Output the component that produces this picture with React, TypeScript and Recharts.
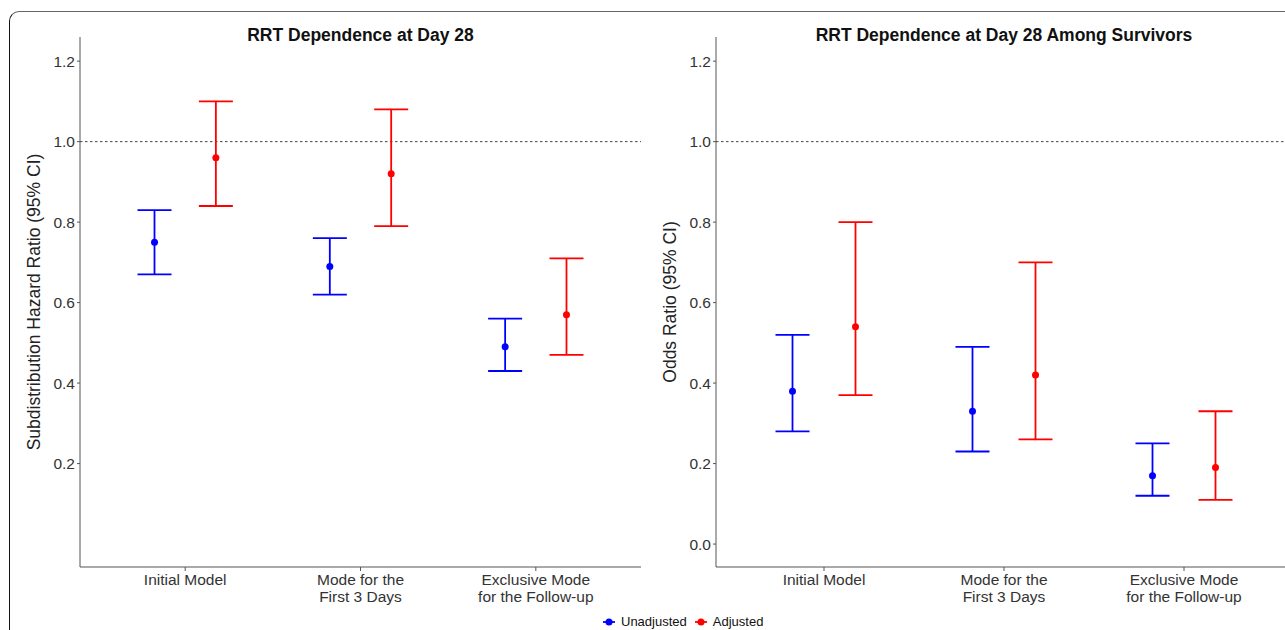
import React from 'react';
import { ComposedChart, Scatter, ErrorBar, XAxis, YAxis, ReferenceLine, Label } from 'recharts';

const CATEGORIES: string[][] = [
  ['Initial Model'],
  ['Mode for the', 'First 3 Days'],
  ['Exclusive Mode', 'for the Follow-up'],
];
const SERIES = ['Unadjusted', 'Adjusted'];
const COLORS = ['#0000FF', '#FF0000'];

// Panel 1: RRT Dependence at Day 28 (subdistribution hazard ratio)
const HR_UNADJ_EST = [0.75, 0.69, 0.49];
const HR_UNADJ_LO = [0.67, 0.62, 0.43];
const HR_UNADJ_HI = [0.83, 0.76, 0.56];
const HR_ADJ_EST = [0.96, 0.92, 0.57];
const HR_ADJ_LO = [0.84, 0.79, 0.47];
const HR_ADJ_HI = [1.1, 1.08, 0.71];

// Panel 2: Among survivors (odds ratio)
const OR_UNADJ_EST = [0.38, 0.33, 0.17];
const OR_UNADJ_LO = [0.28, 0.23, 0.12];
const OR_UNADJ_HI = [0.52, 0.49, 0.25];
const OR_ADJ_EST = [0.54, 0.42, 0.19];
const OR_ADJ_LO = [0.37, 0.26, 0.11];
const OR_ADJ_HI = [0.8, 0.7, 0.33];

const HR_TICKS = [0.2, 0.4, 0.6, 0.8, 1.0, 1.2];
const OR_TICKS = [0.0, 0.2, 0.4, 0.6, 0.8, 1.0, 1.2];
const Y_DOMAIN = [-0.057, 1.26];
const X_DOMAIN = [0.4, 3.6];
const X_TICKS = [1, 2, 3];

const DODGE = 0.175;
const FONT = '"Liberation Sans", Arial, sans-serif';

function build(est: number[], lo: number[], hi: number[], offset: number) {
  return est.map((v, i) => ({ x: i + 1 + offset, y: v, err: [v - lo[i], hi[i] - v] }));
}

const XTick = (props: any) => {
  const { x, y, payload } = props;
  const lines = CATEGORIES[Math.round(payload.value) - 1] || [];
  return (
    <text x={x} y={y} textAnchor="middle" fontSize={15.5} fill="#333" fontFamily={FONT}>
      {lines.map((l, i) => (
        <tspan key={i} x={x} dy={i === 0 ? 12 : 17}>
          {l}
        </tspan>
      ))}
    </text>
  );
};

const dot = (color: string) => (p: any) => <circle cx={p.cx} cy={p.cy} r={3.5} fill={color} />;

type PanelProps = {
  left: number;
  marginLeft: number;
  marginRight: number;
  title: string;
  yLabel: string;
  ticks: number[];
  unadj: any[];
  adj: any[];
};

const Panel = ({ left, marginLeft, marginRight, title, yLabel, ticks, unadj, adj }: PanelProps) => {
  const W = 660;
  const plotLeft = marginLeft + 60;
  const plotW = W - plotLeft - marginRight;
  return (
    <div style={{ position: 'absolute', left, top: 0, width: W, height: 630 }}>
      <div
        style={{
          position: 'absolute',
          left: plotLeft,
          width: plotW,
          top: 25,
          textAlign: 'center',
          fontFamily: FONT,
          fontWeight: 'bold',
          fontSize: 17.5,
          color: '#111',
        }}
      >
        {title}
      </div>
      <ComposedChart
        width={W}
        height={630}
        margin={{ top: 37, right: marginRight, bottom: 13, left: marginLeft }}
      >
        <XAxis
          type="number"
          dataKey="x"
          domain={X_DOMAIN}
          ticks={X_TICKS}
          allowDataOverflow
          height={50}
          tick={<XTick />}
          tickSize={4}
          tickMargin={2}
          stroke="#555"
          tickLine={{ stroke: '#555' }}
        />
        <YAxis
          type="number"
          dataKey="y"
          domain={Y_DOMAIN}
          ticks={ticks}
          allowDataOverflow
          width={60}
          tickFormatter={(v: number) => v.toFixed(1)}
          tick={{ fontSize: 15.5, fill: '#333', fontFamily: FONT }}
          tickSize={3}
          tickMargin={2}
          stroke="#555"
        >
          <Label
            content={(p: any) => {
              const vb = p.viewBox;
              const cx = vb.x + 14;
              const cy = vb.y + vb.height / 2;
              return (
                <text
                  x={cx}
                  y={cy}
                  transform={`rotate(-90 ${cx} ${cy})`}
                  textAnchor="middle"
                  dominantBaseline="central"
                  fontSize={17.5}
                  fill="#222"
                  fontFamily={FONT}
                >
                  {yLabel}
                </text>
              );
            }}
          />
        </YAxis>
        <ReferenceLine y={1} stroke="#444" strokeDasharray="2.5 2.5" strokeWidth={1} />
        <Scatter data={unadj} fill={COLORS[0]} shape={dot(COLORS[0])} isAnimationActive={false}>
          <ErrorBar dataKey="err" direction="y" width={17} stroke={COLORS[0]} strokeWidth={1.8} />
        </Scatter>
        <Scatter data={adj} fill={COLORS[1]} shape={dot(COLORS[1])} isAnimationActive={false}>
          <ErrorBar dataKey="err" direction="y" width={17} stroke={COLORS[1]} strokeWidth={1.8} />
        </Scatter>
      </ComposedChart>
    </div>
  );
};

const LegendItem = ({ label, color }: { label: string; color: string }) => (
  <div style={{ display: 'flex', alignItems: 'center', marginRight: 7 }}>
    <svg width={14} height={10} style={{ marginRight: 5 }}>
      <line x1={1} y1={5} x2={13} y2={5} stroke={color} strokeWidth={1.8} />
      <circle cx={7} cy={5} r={3.5} fill={color} />
    </svg>
    <span style={{ fontFamily: FONT, fontSize: 13, color: '#111' }}>{label}</span>
  </div>
);

export default function App() {
  const hrUnadj = build(HR_UNADJ_EST, HR_UNADJ_LO, HR_UNADJ_HI, -DODGE);
  const hrAdj = build(HR_ADJ_EST, HR_ADJ_LO, HR_ADJ_HI, DODGE);
  const orUnadj = build(OR_UNADJ_EST, OR_UNADJ_LO, OR_UNADJ_HI, -DODGE);
  const orAdj = build(OR_ADJ_EST, OR_ADJ_LO, OR_ADJ_HI, DODGE);
  return (
    <div
      style={{
        position: 'fixed',
        left: 0,
        top: 0,
        width: 1285,
        height: 630,
        overflow: 'hidden',
        background: '#fff',
      }}
    >
      <div
        style={{
          position: 'absolute',
          left: 9,
          top: 11,
          width: 1320,
          height: 660,
          border: '1px solid #666',
          borderLeft: '1.5px solid #111',
          borderRadius: 10,
          boxSizing: 'border-box',
        }}
      />
      <Panel
        left={0}
        marginLeft={20}
        marginRight={19}
        title="RRT Dependence at Day 28"
        yLabel="Subdistribution Hazard Ratio (95% CI)"
        ticks={HR_TICKS}
        unadj={hrUnadj}
        adj={hrAdj}
      />
      <Panel
        left={640}
        marginLeft={16}
        marginRight={8}
        title="RRT Dependence at Day 28 Among Survivors"
        yLabel="Odds Ratio (95% CI)"
        ticks={OR_TICKS}
        unadj={orUnadj}
        adj={orAdj}
      />
      <div
        style={{
          position: 'absolute',
          left: 602,
          top: 614,
          display: 'flex',
          alignItems: 'center',
        }}
      >
        {SERIES.map((s, i) => (
          <LegendItem key={s} label={s} color={COLORS[i]} />
        ))}
      </div>
    </div>
  );
}
